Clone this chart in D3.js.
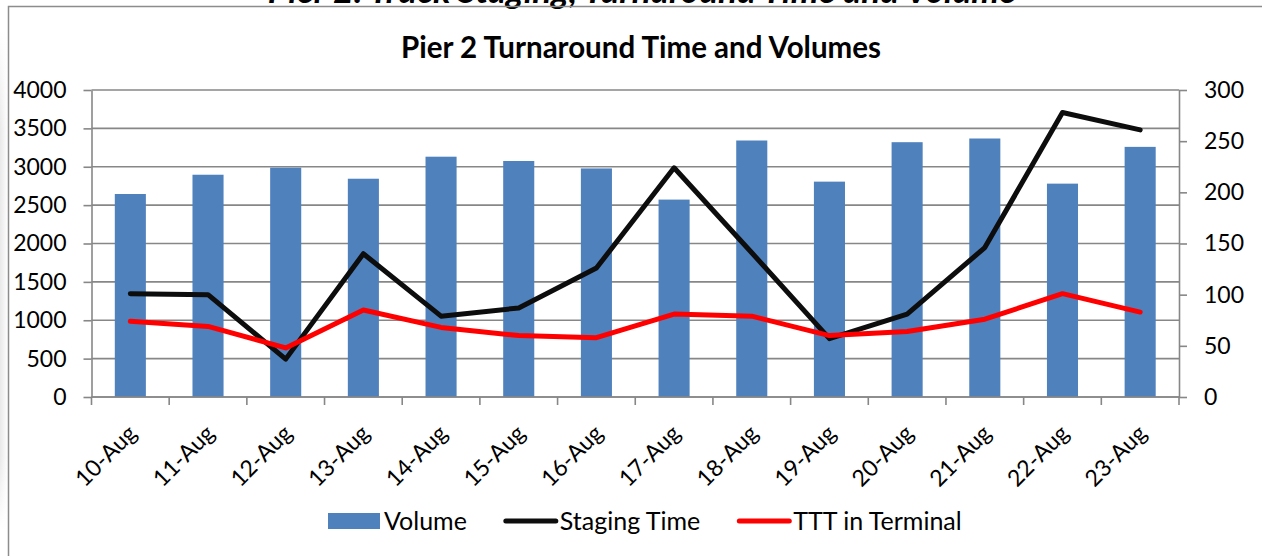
<!DOCTYPE html>
<html>
<head>
<meta charset="utf-8">
<script src="https://cdn.jsdelivr.net/npm/d3@7"></script>
<style>
  body { margin: 0; background: #fff; }
  svg { display: block; }
</style>
</head>
<body>
<script>
// Width and height
var w = 1262;
var h = 556;

var margin = {top: 90, right: 83, bottom: 159, left: 91.5};
var fontFamily = "Lato, 'Open Sans', sans-serif";
var colorBar = "#4F81BD";
var colorStaging = "#0d0d0d";
var colorTTT = "#FF0000";
var colorGrid = "#878787";

// data
var days = ["10-Aug", "11-Aug", "12-Aug", "13-Aug", "14-Aug", "15-Aug", "16-Aug",
            "17-Aug", "18-Aug", "19-Aug", "20-Aug", "21-Aug", "22-Aug", "23-Aug"];
var volume = [2645, 2896, 2988, 2844, 3131, 3075, 2978, 2572, 3342, 2806, 3320, 3368, 2780, 3259];
var stagingTime = [101, 100, 37, 140, 79, 87, 126, 224, 141, 57, 81, 146, 278, 261];
var tttInTerminal = [74, 69, 48, 85, 68, 60, 58, 81, 79, 60, 64, 76, 101, 83];
var leftTicks = [0, 500, 1000, 1500, 2000, 2500, 3000, 3500, 4000];
var rightTicks = [0, 50, 100, 150, 200, 250, 300];

var chartTitle = "Pier 2 Turnaround Time and Volumes";
var pageTitle = "Pier 2: Truck Staging, Turnaround Time and Volume";
var legendItems = [
  {name: "Volume", type: "bar", color: colorBar},
  {name: "Staging Time", type: "line", color: colorStaging},
  {name: "TTT in Terminal", type: "line", color: colorTTT}
];

var plotW = w - margin.left - margin.right;
var plotH = h - margin.top - margin.bottom;

// Create SVG element
var svg = d3.select("body")
  .append("svg")
  .attr("width", w)
  .attr("height", h);

// faint page shadow on the left edge
var defs = svg.append("defs");
var grad = defs.append("linearGradient")
  .attr("id", "shadow").attr("x1", 0).attr("x2", 1).attr("y1", 0).attr("y2", 0);
grad.append("stop").attr("offset", "0%").attr("stop-color", "#dadada");
grad.append("stop").attr("offset", "100%").attr("stop-color", "#ffffff");
var fade = defs.append("linearGradient")
  .attr("id", "fade").attr("x1", 0).attr("x2", 0).attr("y1", 0).attr("y2", 1);
fade.append("stop").attr("offset", "0%").attr("stop-color", "#fff");
fade.append("stop").attr("offset", "20%").attr("stop-color", "#fff").attr("stop-opacity", 0);
fade.append("stop").attr("offset", "85%").attr("stop-color", "#fff").attr("stop-opacity", 0);
fade.append("stop").attr("offset", "100%").attr("stop-color", "#fff");
svg.append("rect")
  .attr("x", 0).attr("y", 30).attr("width", 8).attr("height", 500)
  .attr("fill", "url(#shadow)").attr("opacity", 0.6);
svg.append("rect")
  .attr("x", 0).attr("y", 30).attr("width", 8).attr("height", 500)
  .attr("fill", "url(#fade)");

// page title, cut off by the top edge (as in the source)
svg.append("text")
  .attr("x", 642).attr("y", 3)
  .attr("text-anchor", "middle")
  .attr("font-family", fontFamily)
  .attr("font-weight", "bold")
  .attr("font-style", "italic")
  .attr("font-size", "35px")
  .attr("fill", "#000")
  .text(pageTitle);

// chart frame
svg.append("path")
  .attr("d", "M8.5," + (h + 2) + "V6.5H" + (w + 2))
  .attr("fill", "none")
  .attr("stroke", "#8c8c8c")
  .attr("stroke-width", 1.5);

svg.append("text")
  .attr("x", 641).attr("y", 58)
  .attr("text-anchor", "middle")
  .attr("font-family", fontFamily)
  .attr("font-weight", "bold")
  .attr("font-size", "29.5px")
  .attr("fill", "#000")
  .text(chartTitle);

var g = svg.append("g").attr("transform", "translate(" + margin.left + "," + margin.top + ")");

var x = d3.scaleBand().domain(days).range([0, plotW]).paddingInner(0.6).paddingOuter(0.3);
var xBand = d3.scaleBand().domain(days).range([0, plotW]);
var yLeft = d3.scaleLinear().domain([0, 4000]).range([plotH, 0]);
var yRight = d3.scaleLinear().domain([0, 300]).range([plotH, 0]);

// gridlines
g.selectAll("line.grid")
  .data(leftTicks)
  .enter()
  .append("line")
  .attr("class", "grid")
  .attr("x1", 0).attr("x2", plotW)
  .attr("y1", function(d) { return yLeft(d); })
  .attr("y2", function(d) { return yLeft(d); })
  .attr("stroke", colorGrid)
  .attr("stroke-width", 1.6);

// bars
g.selectAll("rect.bar")
  .data(volume)
  .enter()
  .append("rect")
  .attr("class", "bar")
  .attr("x", function(d, i) { return x(days[i]); })
  .attr("y", function(d) { return yLeft(d); })
  .attr("width", x.bandwidth())
  .attr("height", function(d) { return plotH - yLeft(d); })
  .attr("fill", colorBar);

// axes
function styleAxis(sel) {
  sel.selectAll("path, line").attr("stroke", colorGrid).attr("stroke-width", 1.6);
  sel.selectAll("text")
    .attr("font-family", fontFamily)
    .attr("font-size", "23px")
    .attr("fill", "#000");
}

var leftAxis = g.append("g")
  .call(d3.axisLeft(yLeft).tickValues(leftTicks).tickFormat(d3.format("d"))
    .tickSize(8).tickSizeOuter(0).tickPadding(17));
styleAxis(leftAxis);

var rightAxis = g.append("g")
  .attr("transform", "translate(" + plotW + ",0)")
  .call(d3.axisRight(yRight).tickValues(rightTicks).tickFormat(d3.format("d"))
    .tickSize(8).tickSizeOuter(0).tickPadding(17));
styleAxis(rightAxis);

// bottom axis: ticks at band edges
var bottom = g.append("g").attr("transform", "translate(0," + plotH + ")");
bottom.append("line")
  .attr("x1", 0).attr("x2", plotW)
  .attr("stroke", colorGrid).attr("stroke-width", 1.6);
bottom.selectAll("line.tick")
  .data(days.concat(["end"]))
  .enter()
  .append("line")
  .attr("class", "tick")
  .attr("x1", function(d, i) { return i * xBand.step(); })
  .attr("x2", function(d, i) { return i * xBand.step(); })
  .attr("y1", 0).attr("y2", 8)
  .attr("stroke", colorGrid).attr("stroke-width", 1.6);
bottom.selectAll("text")
  .data(days)
  .enter()
  .append("text")
  .attr("transform", function(d) {
    return "translate(" + (xBand(d) + xBand.bandwidth() / 2 + 2) + ",32) rotate(-45)";
  })
  .attr("text-anchor", "end")
  .attr("dy", "0.35em")
  .attr("font-family", fontFamily)
  .attr("font-size", "23px")
  .attr("fill", "#000")
  .text(function(d) { return d; });

// lines
var lineGen = d3.line()
  .x(function(d, i) { return xBand(days[i]) + xBand.bandwidth() / 2; })
  .y(function(d) { return yRight(d); });

g.append("path")
  .datum(stagingTime)
  .attr("d", lineGen)
  .attr("fill", "none")
  .attr("stroke", colorStaging)
  .attr("stroke-width", 5)
  .attr("stroke-linejoin", "round")
  .attr("stroke-linecap", "round");

g.append("path")
  .datum(tttInTerminal)
  .attr("d", lineGen)
  .attr("fill", "none")
  .attr("stroke", colorTTT)
  .attr("stroke-width", 5)
  .attr("stroke-linejoin", "round")
  .attr("stroke-linecap", "round");

// legend
var legend = svg.append("g").attr("transform", "translate(328,521)");
var lx = 0;
legendItems.forEach(function(item) {
  if (item.type === "bar") {
    legend.append("rect")
      .attr("x", lx).attr("y", -8).attr("width", 52).attr("height", 16)
      .attr("fill", item.color);
  } else {
    legend.append("line")
      .attr("x1", lx + 2).attr("x2", lx + 52)
      .attr("stroke", item.color)
      .attr("stroke-width", 5)
      .attr("stroke-linecap", "round");
  }
  var t = legend.append("text")
    .attr("x", lx + 56).attr("y", 0)
    .attr("dy", "0.35em")
    .attr("font-family", fontFamily)
    .attr("font-size", "25px")
    .attr("fill", "#000")
    .text(item.name);
  lx += 56 + t.node().getComputedTextLength() + 37;
});
</script>
</body>
</html>
